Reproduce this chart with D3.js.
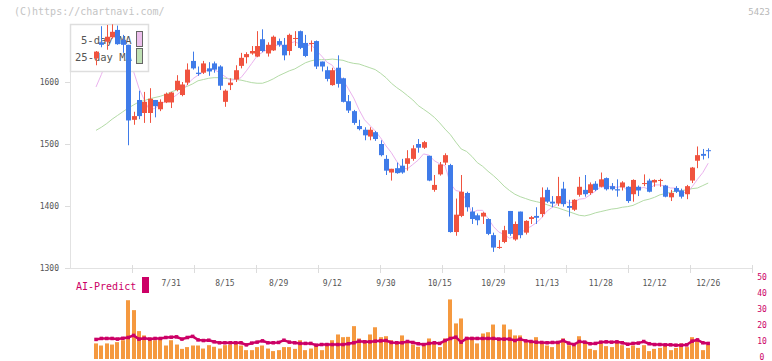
<!DOCTYPE html>
<html><head><meta charset="utf-8">
<script src="https://cdn.jsdelivr.net/npm/d3@7/dist/d3.min.js"></script>
<style>
html,body{margin:0;padding:0;background:#fff;}
svg{display:block;}
text{font-family:"DejaVu Sans Mono","Liberation Mono",monospace;}
</style></head>
<body>
<svg id="chart" width="772" height="361"></svg>
<script>
// ---- data ----
const tickLabels = ["7/31","8/15","8/29","9/12","9/30","10/15","10/29","11/13","11/28","12/12","12/26"];
const tickIndex  = [14,24,34,44,54,64,74,84,94,104,114];
const priceTicks = [1300,1400,1500,1600];
const volTicks   = [0,10,20,30,40,50];

const open = [1638,1664,1665,1672,1684,1668,1660,1539,1571,1550,1550,1571,1556,1567,1567,1587,1579,1599,1634,1615,1615,1622,1630,1625,1568,1595,1604,1626,1640,1646,1641,1669,1646,1651,1666,1660,1650,1670,1682,1663,1662,1666,1633,1619,1595,1623,1606,1569,1553,1529,1523,1512,1519,1500,1476,1454,1461,1465,1468,1476,1500,1494,1481,1426,1451,1470,1466,1358,1384,1421,1391,1385,1383,1379,1353,1333,1342,1392,1346,1391,1357,1379,1384,1387,1426,1407,1404,1428,1400,1394,1418,1426,1421,1436,1431,1445,1432,1427,1430,1431,1419,1431,1436,1441,1438,1441,1433,1414,1429,1425,1419,1441,1473,1484,1490];
const high = [1650,1690,1692,1693,1691,1676,1660,1552,1586,1584,1590,1571,1572,1583,1584,1611,1600,1630,1649,1625,1634,1632,1633,1627,1588,1606,1627,1647,1648,1658,1682,1685,1664,1675,1670,1671,1678,1682,1683,1676,1667,1667,1633,1625,1623,1643,1607,1579,1555,1539,1527,1527,1521,1506,1482,1460,1470,1476,1490,1498,1508,1505,1481,1450,1471,1485,1468,1412,1450,1423,1398,1388,1390,1380,1357,1345,1368,1392,1375,1391,1377,1384,1398,1430,1430,1416,1447,1439,1410,1411,1447,1450,1438,1440,1454,1446,1437,1443,1440,1432,1443,1433,1451,1444,1443,1444,1434,1426,1432,1428,1434,1463,1496,1492,1493];
const low = [1627,1656,1652,1670,1660,1647,1498,1531,1540,1534,1534,1543,1553,1566,1558,1585,1577,1595,1620,1610,1613,1610,1615,1587,1560,1587,1600,1622,1630,1644,1640,1648,1641,1650,1657,1635,1643,1658,1653,1640,1649,1621,1617,1601,1594,1591,1567,1550,1531,1522,1506,1506,1505,1480,1450,1441,1452,1452,1457,1473,1486,1492,1440,1423,1449,1466,1357,1352,1382,1391,1371,1369,1371,1353,1326,1331,1340,1352,1344,1348,1354,1371,1371,1382,1405,1398,1400,1399,1383,1392,1415,1415,1418,1424,1430,1425,1425,1415,1425,1405,1407,1416,1432,1422,1431,1431,1414,1408,1421,1412,1411,1437,1461,1475,1477];
const close = [1649,1660,1673,1681,1661,1660,1538,1545,1545,1568,1573,1561,1568,1581,1583,1602,1596,1620,1622,1613,1630,1617,1620,1594,1586,1599,1619,1639,1645,1650,1658,1650,1660,1673,1660,1643,1676,1671,1655,1642,1663,1625,1625,1605,1619,1597,1568,1554,1534,1524,1514,1523,1508,1482,1457,1460,1453,1454,1477,1493,1494,1503,1441,1434,1467,1482,1358,1386,1423,1398,1379,1377,1389,1355,1333,1334,1361,1355,1371,1353,1376,1382,1381,1414,1407,1404,1416,1403,1397,1410,1431,1419,1435,1426,1443,1427,1427,1425,1438,1408,1442,1425,1437,1423,1442,1442,1415,1421,1423,1415,1432,1462,1482,1481,1489];
const ma5 = [1592,1612,1635,1652,1665,1667,1643,1617,1590,1571,1554,1558,1563,1570,1573,1579,1586,1596,1605,1611,1616,1620,1620,1615,1609,1603,1604,1607,1618,1630,1642,1648,1653,1658,1660,1657,1662,1665,1661,1657,1661,1651,1642,1632,1627,1614,1603,1589,1574,1555,1539,1530,1521,1510,1497,1486,1472,1461,1460,1467,1474,1484,1482,1473,1468,1465,1436,1425,1423,1409,1389,1393,1393,1380,1367,1358,1354,1348,1351,1355,1363,1367,1373,1381,1392,1398,1404,1409,1405,1406,1411,1412,1418,1424,1431,1430,1432,1430,1432,1425,1428,1428,1430,1427,1434,1434,1432,1429,1429,1423,1421,1431,1443,1454,1469];
const ma25 = [1522,1527,1533,1540,1546,1552,1558,1563,1568,1570,1573,1575,1577,1580,1584,1587,1590,1593,1597,1602,1604,1606,1607,1607,1606,1605,1604,1603,1601,1599,1598,1598,1601,1605,1610,1614,1618,1621,1626,1631,1634,1636,1636,1636,1637,1636,1635,1632,1630,1629,1626,1623,1620,1614,1607,1598,1591,1585,1578,1571,1562,1556,1550,1543,1534,1524,1515,1503,1492,1488,1480,1470,1464,1456,1449,1441,1432,1425,1419,1415,1412,1409,1407,1405,1402,1399,1397,1394,1391,1388,1385,1384,1386,1389,1391,1393,1395,1396,1398,1399,1401,1405,1409,1411,1414,1418,1420,1422,1424,1425,1426,1428,1429,1433,1437];
const volume = [8.8,7.5,8.8,8.1,9.6,10.8,35.8,29.6,16.5,13.8,12.3,10.8,12.3,7.5,10.8,8.1,5.4,6.5,7.5,7.5,5.6,7.7,6.7,5.6,7.7,8.1,8.8,7.5,4.6,4.6,6.5,7.5,5.6,4.0,4.6,6.5,6.5,5.4,10.8,4.6,5.6,8.1,4.6,7.5,10.8,14.4,12.7,12.9,19.6,11.9,10.8,14.4,18.9,12.7,13.3,10.8,9.2,13.8,10.2,8.1,6.7,8.1,11.9,9.2,6.5,11.9,36.3,21.3,24.4,12.9,12.9,8.8,15.0,15.8,20.6,10.8,20.6,17.5,13.8,13.8,9.6,10.2,12.7,9.6,7.5,6.5,9.2,11.9,7.7,7.5,13.3,10.2,5.4,4.6,8.8,7.1,6.5,9.8,7.7,6.0,7.5,6.0,7.7,4.0,5.4,6.0,7.7,4.6,6.0,8.8,6.5,12.7,11.3,4.6,8.1];
const aiPredict = [11.3,11.9,11.9,11.9,11.5,12.0,12.5,13.8,11.5,12.0,11.5,11.9,11.9,12.5,12.7,12.9,11.5,12.5,13.2,11.0,10.6,10.8,9.8,9.2,9.2,9.2,9.2,9.2,7.9,9.0,9.6,10.4,9.2,9.2,9.4,10.8,9.6,9.2,8.8,8.8,8.8,7.7,8.1,8.1,8.1,8.1,8.1,8.6,9.2,10.2,9.8,9.8,10.2,10.4,10.6,9.4,9.2,9.2,10.0,9.4,8.6,8.1,8.8,9.2,8.8,10.6,11.9,12.7,9.6,11.9,11.9,11.9,11.9,11.9,11.9,11.5,11.5,11.5,10.6,11.5,10.4,10.0,9.6,9.4,9.2,9.4,9.4,10.6,9.0,8.1,10.0,9.6,8.6,8.8,9.6,9.8,9.6,9.8,9.2,8.3,8.8,9.0,10.0,8.6,8.1,8.1,7.9,7.9,7.7,7.7,7.9,10.2,11.0,9.2,8.8];

// ---- layout ----
const svg = d3.select("#chart");
const N = close.length;
const idx = d3.range(N);
const x = d3.scaleLinear().domain([0, N - 1]).range([96, 708.2]);
const y = d3.scaleLinear().domain([1300, 1700]).range([268, 20]);
const yv = d3.scaleLinear().domain([0, 50]).range([357.5, 277.5]);
const grid = d3.scaleLinear().domain([0, 11]).range([70, 752]);

const RED = "#f0533f", BLUE = "#3f7be9";

// watermark & code
svg.append("text").attr("x", 14).attr("y", 15).attr("font-size", 10).attr("fill", "#c4c4c4")
  .text("(C)https://chartnavi.com/");
svg.append("text").attr("x", 770).attr("y", 15).attr("font-size", 9).attr("fill", "#b8b8b8")
  .attr("text-anchor", "end").text("5423");

// y axis
const yAxis = d3.axisLeft(y).tickValues(priceTicks).tickFormat(d3.format("d"))
  .tickSizeInner(5).tickSizeOuter(0).tickPadding(6);
const gy = svg.append("g").attr("transform", "translate(70,0)").call(yAxis);
gy.select(".domain").attr("stroke", "#e2e2e2").attr("d", "M0.5," + y(1693) + "V" + y(1300));
gy.selectAll(".tick line").attr("stroke", "#dcdcdc");
gy.selectAll(".tick text").attr("font-size", 8).attr("fill", "#555").attr("font-family", "DejaVu Sans Mono");

// x axis line + grid ticks
svg.append("line").attr("x1", grid(0)).attr("x2", grid(11)).attr("y1", 268.5).attr("y2", 268.5).attr("stroke", "#e2e2e2");
svg.append("g").selectAll("line").data(d3.range(1, 12)).join("line")
  .attr("x1", d => Math.round(grid(d)) + 0.5).attr("x2", d => Math.round(grid(d)) + 0.5)
  .attr("y1", 265).attr("y2", 273).attr("stroke", "#dcdcdc");

// date labels
svg.append("g").selectAll("text").data(tickIndex).join("text")
  .attr("x", d => x(d)).attr("y", 286).attr("text-anchor", "middle")
  .attr("font-size", 8).attr("fill", "#555").text((d, i) => tickLabels[i]);

// moving averages
const line = arr => d3.line().x(i => x(i)).y(i => y(arr[i]))(idx);
svg.append("path").attr("d", line(ma25)).attr("fill", "none").attr("stroke", "#b3dba6").attr("stroke-width", 1);
svg.append("path").attr("d", line(ma5)).attr("fill", "none").attr("stroke", "#ebb2ee").attr("stroke-width", 1);

// legend
const lg = svg.append("g");
lg.append("rect").attr("x", 70.5).attr("y", 24.5).attr("width", 78).attr("height", 47)
  .attr("fill", "#fff").attr("stroke", "#dedede").attr("stroke-width", 1.5);
lg.append("text").attr("x", 81).attr("y", 44).attr("font-size", 10.5).attr("fill", "#555").text("5-day MA");
lg.append("text").attr("x", 75).attr("y", 61).attr("font-size", 10.5).attr("fill", "#555").text("25-day MA");
lg.append("rect").attr("x", 136.5).attr("y", 31.5).attr("width", 6).attr("height", 15)
  .attr("fill", "#ecbfec").attr("stroke", "#666");
lg.append("rect").attr("x", 136.5).attr("y", 48.5).attr("width", 6).attr("height", 15)
  .attr("fill", "#bfe0b4").attr("stroke", "#666");

// candles
const cg = svg.append("g");
cg.selectAll("line").data(idx).join("line")
  .attr("x1", i => Math.round(x(i)) + 0.5).attr("x2", i => Math.round(x(i)) + 0.5)
  .attr("y1", i => y(high[i])).attr("y2", i => y(low[i]))
  .attr("stroke", i => close[i] >= open[i] ? RED : BLUE).attr("stroke-width", 1);
cg.selectAll("rect").data(idx).join("rect")
  .attr("x", i => Math.round(x(i)) - 2).attr("width", 5)
  .attr("y", i => y(Math.max(open[i], close[i])))
  .attr("height", i => Math.max(1, Math.abs(y(open[i]) - y(close[i]))))
  .attr("fill", i => close[i] >= open[i] ? RED : BLUE);

// volume panel
svg.append("text").attr("x", 76).attr("y", 290).attr("font-size", 10).attr("fill", "#cc0066").text("AI-Predict");
svg.append("rect").attr("x", 142).attr("y", 277).attr("width", 7).attr("height", 16).attr("fill", "#cc0066");

svg.append("g").selectAll("rect").data(idx).join("rect")
  .attr("x", i => Math.round(x(i)) - 2).attr("width", 4)
  .attr("y", i => yv(volume[i])).attr("height", i => yv(0) - yv(volume[i]) + 1.5)
  .attr("fill", "#f5993f");

svg.append("path").attr("d", d3.line().x(i => x(i)).y(i => yv(aiPredict[i]))(idx))
  .attr("fill", "none").attr("stroke", "#cc0066").attr("stroke-width", 2.5);
svg.append("g").selectAll("rect").data(idx).join("rect")
  .attr("x", i => x(i) - 1.75).attr("y", i => yv(aiPredict[i]) - 1.75)
  .attr("width", 3.5).attr("height", 3.5).attr("fill", "#cc0066");

svg.append("g").selectAll("text").data(volTicks).join("text")
  .attr("x", 762).attr("y", d => yv(d) + 2.5).attr("text-anchor", "middle")
  .attr("font-size", 8).attr("fill", "#cc0066").text(d => d);
</script>
</body></html>
